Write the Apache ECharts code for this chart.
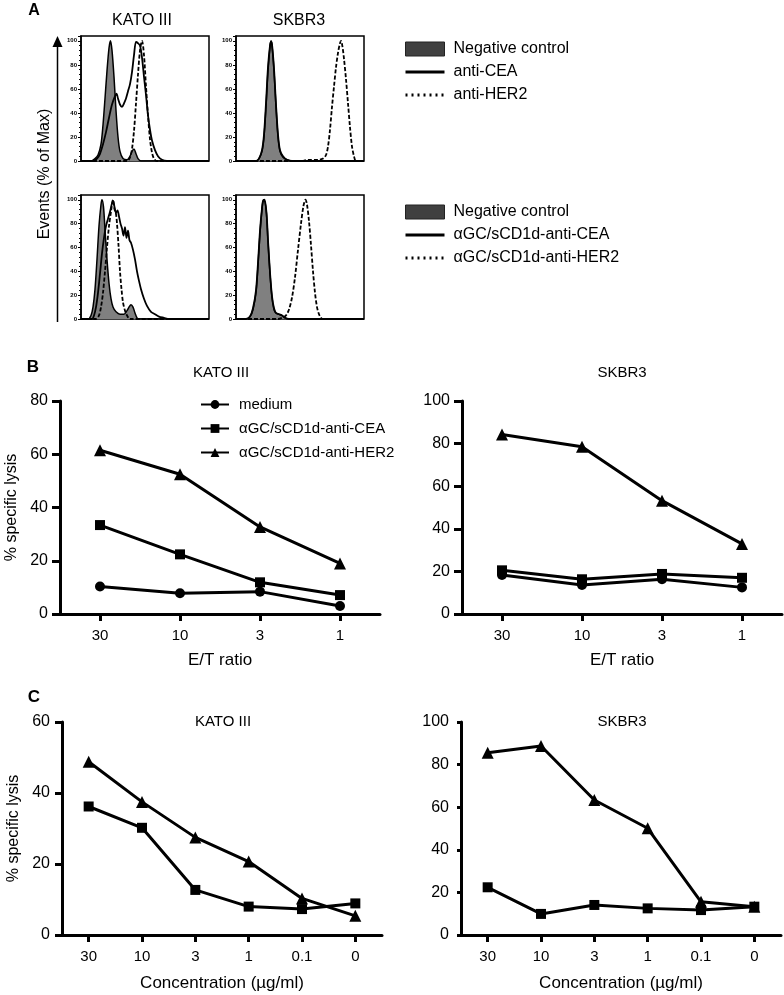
<!DOCTYPE html>
<html>
<head>
<meta charset="utf-8">
<title>KATO III / SKBR3</title>
<script src="https://cdn.jsdelivr.net/npm/echarts@6/dist/echarts.min.js"></script>
<style>
html,body{margin:0;padding:0;background:#fff;}
#main{width:784px;height:995px;}
</style>
</head>
<body>
<div id="main"></div>
<script>
// ---- histograms (A): [channel, % of max], channel 0..128 across the box
var katoCtrlTop = [[0,0],[10,0],[14,2],[17,5],[20,14],[22,30],[24,52],[26,75],[28,94],[29.5,100],[31,92],[33,70],[35,42],[37,20],[39,8],[42,2],[46,1],[49,4],[51,8],[53,10],[55,6],[57,2],[60,0],[128,0]];
var katoCeaTop = [[0,0],[12,0],[16,2],[19,6],[22,14],[25,24],[28,36],[31,47],[34,54],[35.5,56],[37,52],[39,47],[41,45],[43,48],[45,52],[47,58],[49,64],[51,74],[53,88],[55,99],[57,98],[59,96],[61,86],[63,70],[65,55],[67,38],[69,26],[71,17],[74,9],[77,4],[81,1],[86,0],[128,0]];
var katoHer2Top = [[0,0],[46,0],[49,3],[51,10],[53,25],[55,48],[57,72],[59,92],[61,100],[63,88],[65,62],[67,38],[69,18],[71,7],[73,2],[76,0],[128,0]];
var skCtrlTop = [[0,0],[20,0],[23,2],[26,8],[28,20],[30,45],[32,75],[34,95],[35,100],[36,96],[38,75],[40,45],[42,20],[44,8],[47,3],[51,1],[55,0],[128,0]];
var skCeaTop = [[0,0],[20,0],[23,2],[26,9],[28,22],[30,48],[32,78],[34,96],[35,99],[36,97],[38,77],[40,47],[42,22],[44,9],[47,4],[51,1],[56,0],[128,0]];
var skHer2Top = [[0,0],[66,0],[72,1],[82,1],[87,2],[90,5],[92,12],[94,26],[96,45],[98,62],[100,78],[102,90],[104,98],[105,100],[106.5,95],[108,85],[110,68],[112,48],[114,28],[116,12],[118,4],[120,0],[128,0]];
var katoCtrlBot = [[0,0],[7,0],[10,3],[12,10],[14,25],[16,50],[18,78],[20,96],[21,100],[22.5,94],[24,75],[26,50],[28,30],[30,17],[32,10],[35,6],[39,4],[43,4],[46,7],[48,10],[50,12],[52,10],[54,5],[56,1],[58,0],[128,0]];
var katoCeaBot = [[0,0],[11,0],[13,3],[15,10],[17,22],[19,38],[21,55],[23,68],[25,78],[27,84],[29,90],[31,97],[32,99],[33.5,94],[35,89],[36.5,91],[38,86],[39.5,80],[41,76],[42.5,70],[44,77],[45.5,68],[47,74],[48.5,66],[50,64],[52,58],[54,50],[56,40],[58,32],[60,25],[63,17],[66,11],[70,6],[74,4],[78,2],[83,1],[88,0],[128,0]];
var katoHer2Bot = [[0,0],[15,0],[18,3],[20,10],[22,22],[24,40],[26,60],[28,78],[30,90],[32,100],[33.5,92],[35,88],[36,80],[37.5,62],[39,40],[40.5,25],[42,14],[44,7],[46,3],[49,0],[128,0]];
var skCtrlBot = [[0,0],[10,0],[14,2],[17,8],[20,22],[22,45],[24,72],[26,92],[27.5,100],[29,98],[30.5,88],[32,65],[34,38],[36,18],[38,8],[40,5],[43,4],[46,3],[49,1],[52,0],[128,0]];
var skCeaBot = [[0,0],[10,0],[14,2],[17,9],[20,24],[22,47],[24,74],[26,93],[27,99],[28.5,100],[30.5,89],[32,66],[34,39],[36,19],[38,9],[40,5],[43,4],[46,3],[49,1],[53,0],[128,0]];
var skHer2Bot = [[0,0],[42,0],[46,1],[50,3],[53,8],[56,18],[59,35],[62,58],[65,80],[67.5,95],[69.5,100],[71,96],[73,82],[75,62],[77,40],[79,22],[81,10],[83,4],[85,1],[87,0],[128,0]];

// ---- lysis (B, C)
var etRatio = ['30', '10', '3', '1'];
var concLabels = ['30', '10', '3', '1', '0.1', '0'];
var bKatoMedium = [10.3, 7.8, 8.4, 3.0];
var bKatoCea = [33.4, 22.4, 11.9, 7.1];
var bKatoHer2 = [61.5, 52.5, 32.7, 19.0];
var bSkMedium = [18.3, 13.6, 16.3, 12.5];
var bSkCea = [20.5, 16.3, 18.8, 17.0];
var bSkHer2 = [84.3, 78.5, 53.2, 32.9];
var cKatoCea = [36.2, 30.2, 12.7, 8.0, 7.3, 8.9];
var cKatoHer2 = [48.8, 37.5, 27.5, 20.7, 10.3, 5.4];
var cSkCea = [22.4, 9.9, 14.1, 12.5, 11.7, 13.3];
var cSkHer2 = [85.6, 88.7, 63.4, 50.1, 15.6, 13.3];

var FONT = '"Liberation Sans", Arial, sans-serif';
var CEA_NAME = 'αGC/sCD1d-anti-CEA ';   // trailing space: keeps B/C legend apart from panel A
var HER2_NAME = 'αGC/sCD1d-anti-HER2 ';
var NO_SYMBOL = {color: 'rgba(0,0,0,0)', borderColor: 'rgba(0,0,0,0)', borderWidth: 0};

var chart = echarts.init(document.getElementById('main'));

//------------------- axes helpers
function histGrid(left, top, height) {
	return {left: left, top: top, width: 128, height: height, show: true,
		borderColor: '#000', borderWidth: 1.5, backgroundColor: 'transparent'};
}
function histX(idx) {
	return {type: 'value', gridIndex: idx, min: 0, max: 128, show: false};
}
function histY(idx) {
	return {
		type: 'value', gridIndex: idx, min: 0, max: 104, interval: 20,
		axisLine: {show: true, lineStyle: {color: '#000', width: 1.5}},
		axisTick: {show: true, length: 3, lineStyle: {color: '#000', width: 1}},
		minorTick: {show: true, splitNumber: 5, length: 2, lineStyle: {color: '#000', width: 1}},
		axisLabel: {fontSize: 6, fontWeight: 'bold', color: '#000', margin: 4, showMaxLabel: false, fontFamily: FONT},
		splitLine: {show: false}
	};
}
function lysisX(idx, cats, name, nameGap) {
	return {
		type: 'category', gridIndex: idx, data: cats, boundaryGap: true,
		axisLine: {show: true, lineStyle: {color: '#000', width: 3}},
		axisTick: {show: true, alignWithLabel: true, length: 7, lineStyle: {color: '#000', width: 3}},
		axisLabel: {fontSize: 15, color: '#000', margin: 14, fontFamily: FONT},
		name: name, nameLocation: 'middle', nameGap: nameGap,
		nameTextStyle: {fontSize: 17, color: '#000', fontFamily: FONT}
	};
}
function lysisY(idx, max, withName, tickLen) {
	return {
		type: 'value', gridIndex: idx, min: 0, max: max, interval: 20,
		axisLine: {show: true, lineStyle: {color: '#000', width: 3}},
		axisTick: {show: true, length: tickLen, lineStyle: {color: '#000', width: 3}},
		axisLabel: {fontSize: 16, color: '#000', margin: 12, fontFamily: FONT},
		splitLine: {show: false},
		name: withName ? '% specific lysis' : '', nameLocation: 'middle', nameGap: 40,
		nameTextStyle: {fontSize: 16, color: '#000', fontFamily: FONT}
	};
}

//------------------- series helpers
function histFill(name, data, idx) {
	return {name: name, type: 'line', xAxisIndex: idx, yAxisIndex: idx, data: data, symbol: 'none',
		smooth: 0.3, silent: true, z: 2,
		itemStyle: {color: '#404040'},
		lineStyle: {color: '#000', width: 1.5},
		areaStyle: {color: '#808080', opacity: 1}};
}
function histLine(name, data, idx, dashed) {
	return {name: name, type: 'line', xAxisIndex: idx, yAxisIndex: idx, data: data, symbol: 'none',
		smooth: 0.3, silent: true, z: dashed ? 4 : 3,
		itemStyle: {color: '#000'},
		lineStyle: {color: '#000', width: 1.8, type: dashed ? [4, 2] : 'solid'}};
}
function lysisLine(name, data, idx, symbol, size) {
	return {name: name, type: 'line', xAxisIndex: idx, yAxisIndex: idx, data: data,
		symbol: symbol, symbolSize: size, showSymbol: true, silent: true, z: 3,
		itemStyle: {color: '#000', borderWidth: 0},
		lineStyle: {color: '#000', width: 3}};
}

function label(text, x, y, size, bold, rotate) {
	return {type: 'text', x: x, y: y, rotation: rotate || 0, silent: true,
		style: {text: text, fill: '#000', textAlign: 'center', textVerticalAlign: 'middle',
			font: (bold ? 'bold ' : '') + size + 'px ' + FONT}};
}

var option = {
	animation: false,
	backgroundColor: '#fff',
	textStyle: {fontFamily: FONT},
	grid: [
		histGrid(81, 36, 125),
		histGrid(236, 36, 125),
		histGrid(81, 195, 124),
		histGrid(236, 195, 124),
		{left: 60, top: 401, width: 320, height: 213},
		{left: 462, top: 401, width: 320, height: 213},
		{left: 62, top: 722, width: 320, height: 213},
		{left: 461, top: 722, width: 320, height: 213}
	],
	xAxis: [
		histX(0), histX(1), histX(2), histX(3),
		lysisX(4, etRatio, 'E/T ratio', 38),
		lysisX(5, etRatio, 'E/T ratio', 38),
		lysisX(6, concLabels, 'Concentration (µg/ml)', 40),
		lysisX(7, concLabels, 'Concentration (µg/ml)', 40)
	],
	yAxis: [
		histY(0), histY(1), histY(2), histY(3),
		lysisY(4, 80, true, 8),
		lysisY(5, 100, false, 8),
		lysisY(6, 60, true, 7),
		lysisY(7, 100, false, 4)
	],
	legend: [
		{
			left: 404, top: 41, orient: 'vertical', selectedMode: false, padding: 0,
			itemWidth: 39, itemHeight: 14, itemGap: 7,
			textStyle: {fontSize: 16, color: '#000', fontFamily: FONT, padding: [0, 0, 0, 4]},
			data: [
				{name: 'Negative control', icon: 'rect', itemStyle: {color: '#404040', borderColor: '#222', borderWidth: 1}},
				{name: 'anti-CEA', itemStyle: NO_SYMBOL, lineStyle: {width: 3, type: 'solid'}},
				{name: 'anti-HER2', itemStyle: NO_SYMBOL, lineStyle: {width: 3, type: [2, 4]}}
			]
		},
		{
			left: 404, top: 204, orient: 'vertical', selectedMode: false, padding: 0,
			itemWidth: 39, itemHeight: 14, itemGap: 7,
			textStyle: {fontSize: 16, color: '#000', fontFamily: FONT, padding: [0, 0, 0, 4]},
			data: [
				{name: 'Negative control', icon: 'rect', itemStyle: {color: '#404040', borderColor: '#222', borderWidth: 1}},
				{name: 'αGC/sCD1d-anti-CEA', itemStyle: NO_SYMBOL, lineStyle: {width: 3, type: 'solid'}},
				{name: 'αGC/sCD1d-anti-HER2', itemStyle: NO_SYMBOL, lineStyle: {width: 3, type: [2, 4]}}
			]
		},
		{
			left: 200, top: 397, orient: 'vertical', selectedMode: false, padding: 0,
			itemWidth: 28, itemHeight: 11, itemGap: 9,
			textStyle: {fontSize: 15, color: '#000', fontFamily: FONT, padding: [0, 0, 0, 5]},
			data: ['medium', CEA_NAME, HER2_NAME]
		}
	],
	series: [
		// A
		histFill('Negative control', katoCtrlTop, 0),
		histLine('anti-CEA', katoCeaTop, 0, false),
		histLine('anti-HER2', katoHer2Top, 0, true),
		histFill('Negative control', skCtrlTop, 1),
		histLine('anti-CEA', skCeaTop, 1, false),
		histLine('anti-HER2', skHer2Top, 1, true),
		histFill('Negative control', katoCtrlBot, 2),
		histLine('αGC/sCD1d-anti-CEA', katoCeaBot, 2, false),
		histLine('αGC/sCD1d-anti-HER2', katoHer2Bot, 2, true),
		histFill('Negative control', skCtrlBot, 3),
		histLine('αGC/sCD1d-anti-CEA', skCeaBot, 3, false),
		histLine('αGC/sCD1d-anti-HER2', skHer2Bot, 3, true),
		// B
		lysisLine('medium', bKatoMedium, 4, 'circle', 10),
		lysisLine(CEA_NAME, bKatoCea, 4, 'rect', 10),
		lysisLine(HER2_NAME, bKatoHer2, 4, 'triangle', 12),
		lysisLine('medium', bSkMedium, 5, 'circle', 10),
		lysisLine(CEA_NAME, bSkCea, 5, 'rect', 10),
		lysisLine(HER2_NAME, bSkHer2, 5, 'triangle', 12),
		// C
		lysisLine(CEA_NAME, cKatoCea, 6, 'rect', 10),
		lysisLine(HER2_NAME, cKatoHer2, 6, 'triangle', 12),
		lysisLine(CEA_NAME, cSkCea, 7, 'rect', 10),
		lysisLine(HER2_NAME, cSkHer2, 7, 'triangle', 12)
	],
	graphic: [
		label('A', 34, 11, 16, true),
		label('B', 33, 367, 17, true),
		label('C', 34, 697, 17, true),
		label('KATO III', 142, 21, 16),
		label('SKBR3', 299, 21, 16),
		label('KATO III', 221, 373, 15),
		label('SKBR3', 622, 373, 15),
		label('KATO III', 223, 722, 15),
		label('SKBR3', 622, 722, 15),
		label('Events (% of Max)', 45, 174, 16, false, Math.PI / 2),
		{type: 'line', silent: true, shape: {x1: 57.5, y1: 45, x2: 57.5, y2: 322}, style: {stroke: '#000', lineWidth: 1.5}},
		{type: 'polygon', silent: true, shape: {points: [[57.5, 36], [52.5, 47], [62.5, 47]]}, style: {fill: '#000'}}
	]
};

chart.setOption(option);
</script>
</body>
</html>
